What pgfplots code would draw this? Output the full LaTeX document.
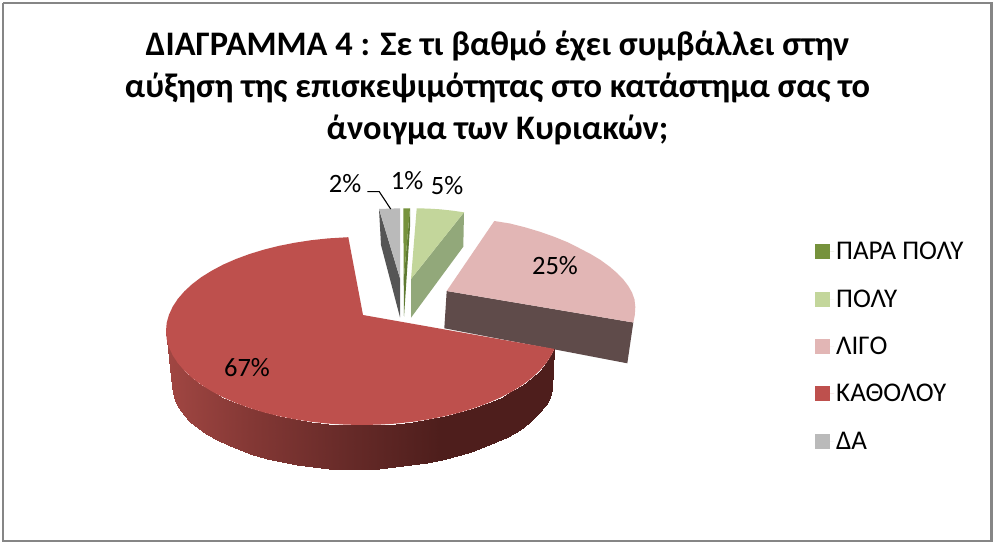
\documentclass[border=0pt]{standalone}
\usepackage{pgfplots}
\pgfplotsset{compat=1.18}
\usepackage{fontspec}
\setmainfont{Carlito}
\definecolor{frameC}{RGB}{134,134,134}
\definecolor{cRed}{RGB}{190,80,77}
\definecolor{cPink}{RGB}{226,182,181}
\definecolor{cPinkW}{RGB}{95,75,74}
\definecolor{cLG}{RGB}{195,214,155}
\definecolor{cLGW}{RGB}{146,168,122}
\definecolor{cDG}{RGB}{118,146,60}
\definecolor{cDGW}{RGB}{95,122,50}
\definecolor{cGr}{RGB}{186,186,186}
\definecolor{cGrW}{RGB}{85,85,85}
\begin{document}
\begin{tikzpicture}
\begin{axis}[
  scale only axis, width=995pt, height=545pt,
  xmin=0, xmax=995, ymin=0, ymax=545, y dir=reverse,
  axis lines=none, clip=false,
  colormap={wall}{rgb255(0pt)=(160,70,66); rgb255(80pt)=(132,56,53); rgb255(180pt)=(102,42,40); rgb255(270pt)=(78,30,28); rgb255(385pt)=(78,30,28)},
  point meta min=170, point meta max=555,
  legend style={at={(axis cs:815,240)}, anchor=north west, draw=none, fill=none,
    font=\fontsize{27}{30}\selectfont, row sep=24.4pt, inner sep=0pt},
  legend cell align=left,
  legend image code/.code={\fill[#1] (0pt,-7.5pt) rectangle (15pt,7.5pt); \path (0pt,0pt) -- (19pt,0pt);},
]
% page and frame
\addplot[fill=white, draw=none, forget plot] coordinates {(0,0)(995,0)(995,545)(0,545)} --cycle;
\addplot[draw=frameC, line width=2.5pt, forget plot] coordinates {(3,3)(991.5,3)(991.5,541)(3,541)(3,3)};
% legend
\addlegendimage{fill=cDG,draw=none}\addlegendentry{ΠΑΡΑ ΠΟΛΥ}
\addlegendimage{fill=cLG,draw=none}\addlegendentry{ΠΟΛΥ}
\addlegendimage{fill=cPink,draw=none}\addlegendentry{ΛΙΓΟ}
\addlegendimage{fill=cRed,draw=none}\addlegendentry{ΚΑΘΟΛΟΥ}
\addlegendimage{fill=cGr,draw=none}\addlegendentry{ΔΑ}
% grey 2%
\addplot[fill=cGrW, draw=none, forget plot] coordinates {(379,209)(400,278.3)(400,317.3)(381,245)} --cycle;
\addplot[fill=cGr, draw=none, forget plot] coordinates {(379,209)(400,208.3)(400,278.3)} --cycle;
% dark green 1%
\addplot[fill=cDGW, draw=none, forget plot] coordinates {(410,208.3)(410,226.7)(404,316.7)(403.7,280)} --cycle;
\addplot[fill=cDG, draw=none, forget plot] coordinates {(403.3,208.3)(410,208.3)(403.7,280)} --cycle;
% light green 5%
\addplot[fill=cLGW, draw=none, forget plot] coordinates {(464,212.3)(463.3,246.7)(411,317.7)(411,279)} --cycle;
\addplot[fill=cLG, draw=none, forget plot] coordinates {(416.7,208.3)(428,208.6)(440,209.3)(452,210.6)(464,212.3)(411,279)} --cycle;
% pink 25%
\addplot[fill=cPinkW, draw=none, forget plot] coordinates {(446.7,291)(633.3,322.5)(627.3,363.3)(444.3,328.3)} --cycle;
\addplot[fill=cPink, draw=none, forget plot] coordinates {(446.7,291)(494.3,221)(510,223.5)(525,227.3)(540,231.8)(554,236.7)(567,242)(579,248)(590.5,254)(600.5,260)(609.4,266.5)(617,273)(623.3,279.5)(628.3,286)(632,292.5)(634.5,299.5)(635.3,307)(634.8,315)(633.3,322.5)} --cycle;
% red wall
\addplot[surf, shader=interp, mesh/rows=2, mesh/cols=35, point meta=x, forget plot] coordinates {
(554.4,348.9)(551.3,355.3)(546.2,363.1)(539.6,370.7)(531.7,378)(522.6,384.9)(512.1,391.4)(500.6,397.5)(488,403)(474.4,408)(460,412.4)(444.8,416.2)(429,419.3)(412.7,421.8)(396,423.6)(379.1,424.6)(362,425)(344.9,424.6)(328,423.6)(311.3,421.8)(295,419.3)(279.2,416.2)(264,412.4)(249.6,408)(236,403)(223.4,397.5)(211.9,391.4)(201.4,384.9)(192.3,378)(184.4,370.7)(177.8,363.1)(172.7,355.3)(169,347.3)(166.7,339.2)(166,331)

(552,390)(549.7,396.5)(545.5,404.5)(538.2,414)(529.8,422)(519.5,429.7)(507.5,436.8)(496.3,442.3)(484.1,447.3)(471,452)(457,456)(442.3,459.6)(427,462.7)(411.2,465.2)(395,467.2)(378.6,468.8)(362,469.6)(345.4,469.7)(329,468.7)(312.8,467.1)(297,464.9)(281.7,462.1)(267,458.7)(253,454.8)(239.9,450.3)(227.7,445.4)(216.5,440)(206.4,434.2)(197.5,428)(189.8,421.5)(183.5,414.7)(178.5,407.7)(174.9,400.6)(172.7,393.3)(172,386)
};
% red top
\addplot[fill=cRed, draw=none, forget plot] coordinates {(363,315)(554.4,348.9)(551.3,355.3)(546.2,363.1)(539.6,370.7)(531.7,378)(522.6,384.9)(512.1,391.4)(500.6,397.5)(488,403)(474.4,408)(460,412.4)(444.8,416.2)(429,419.3)(412.7,421.8)(396,423.6)(379.1,424.6)(362,425)(344.9,424.6)(328,423.6)(311.3,421.8)(295,419.3)(279.2,416.2)(264,412.4)(249.6,408)(236,403)(223.4,397.5)(211.9,391.4)(201.4,384.9)(192.3,378)(184.4,370.7)(177.8,363.1)(172.7,355.3)(169,347.3)(166.7,339.2)(166,331)(166.7,322.8)(169,314.7)(172.7,306.7)(177.8,298.9)(184.4,291.3)(192.3,284)(201.4,277.1)(211.9,270.6)(223.4,264.5)(236,259)(249.6,254)(264,249.6)(279.2,245.8)(295,242.7)(311.3,240.2)(328,238.4)(348.3,237.2)} --cycle;
% leader
\addplot[black, line width=1.1pt, forget plot] coordinates {(367.3,191.7)(379.3,191.7)(390.7,209)};
% title
\node[align=center, font=\fontsize{34.4}{42}\selectfont\bfseries, anchor=center] at (axis cs:497.5,87.5)
 {ΔΙΑΓΡΑΜΜΑ 4 : Σε τι βαθμό έχει συμβάλλει στην\\αύξηση της επισκεψιμότητας στο κατάστημα σας το\\άνοιγμα των Κυριακών;};
% data labels
\node[font=\fontsize{26.5}{30}\selectfont] at (axis cs:345,184) {2\%};
\node[font=\fontsize{26.5}{30}\selectfont] at (axis cs:407,181) {1\%};
\node[font=\fontsize{26.5}{30}\selectfont] at (axis cs:447,186) {5\%};
\node[font=\fontsize{26.5}{30}\selectfont] at (axis cs:555,266) {25\%};
\node[font=\fontsize{26.5}{30}\selectfont] at (axis cs:247,368) {67\%};
\end{axis}
\end{tikzpicture}
\end{document}
